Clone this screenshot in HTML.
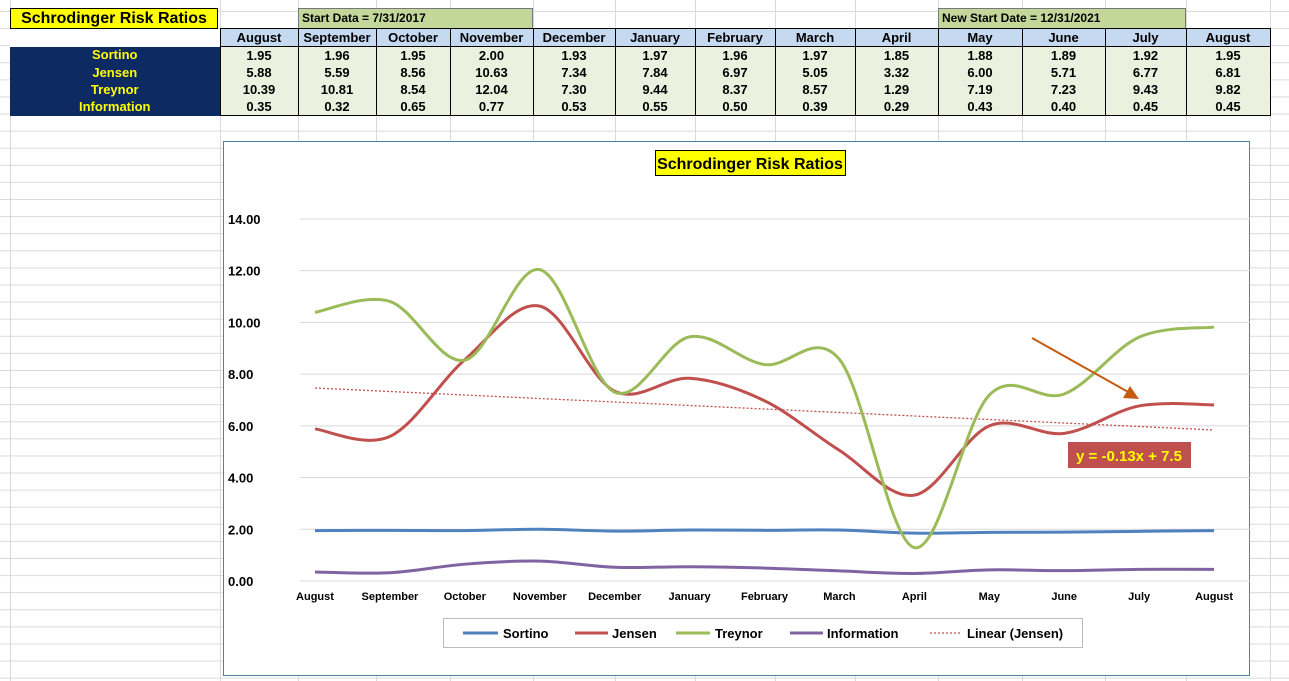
<!DOCTYPE html>
<html><head><meta charset="utf-8"><style>
body{margin:0;width:1289px;height:681px;overflow:hidden;background:#fff;font-family:"Liberation Sans",Arial,sans-serif;position:relative}
.grid{position:absolute;left:0;top:0;width:1289px;height:681px;
background-image:linear-gradient(#dadada 1px,transparent 1px);background-size:100% 17.1px;background-position:0 11px}
.v{position:absolute;top:0;height:681px;width:1px;background:#dadada}
.b{position:absolute;font-weight:bold;box-sizing:border-box}
table{position:absolute;left:10px;top:28px;border-collapse:collapse;font-weight:bold;font-size:13px}
td{height:17px;padding:0;text-align:center;border-left:1px solid #000;border-right:1px solid #000;line-height:16px}
tr.h td{background:#c5d9f1;border:1px solid #000;font-size:13px}
tr.h td:first-child{background:#fff;border:none}
tr.d td{background:#ebf1de}
tr.d td.l{background:#0d2a63;color:#ffff00;border:none}
tr.last td{border-bottom:1px solid #000}
</style></head><body>
<div class="grid"></div>
<div class="v" style="left:10px"></div><div class="v" style="left:220px"></div><div class="v" style="left:298px"></div><div class="v" style="left:376px"></div><div class="v" style="left:450px"></div><div class="v" style="left:533px"></div><div class="v" style="left:615px"></div><div class="v" style="left:695px"></div><div class="v" style="left:775px"></div><div class="v" style="left:855px"></div><div class="v" style="left:938px"></div><div class="v" style="left:1022px"></div><div class="v" style="left:1105px"></div><div class="v" style="left:1186px"></div><div class="v" style="left:1270px"></div>
<div class="b" style="left:10px;top:8px;width:208px;height:21px;background:#ffff00;border:1px solid #000;font-size:16px;text-align:center;line-height:19px">Schrodinger Risk Ratios</div>
<div class="b" style="left:298px;top:8px;width:235px;height:21px;background:#c4d79b;border:1px solid #777;font-size:12px;padding-left:3px;line-height:19px">Start Data = 7/31/2017</div>
<div class="b" style="left:938px;top:8px;width:248px;height:21px;background:#c4d79b;border:1px solid #777;font-size:12px;padding-left:3px;line-height:19px">New Start Date = 12/31/2021</div>
<table>
<colgroup><col style="width:210px"><col style="width:78px"><col style="width:78px"><col style="width:74px"><col style="width:83px"><col style="width:82px"><col style="width:80px"><col style="width:80px"><col style="width:80px"><col style="width:83px"><col style="width:84px"><col style="width:83px"><col style="width:81px"><col style="width:84px"></colgroup>
<tr class="h"><td></td><td>August</td><td>September</td><td>October</td><td>November</td><td>December</td><td>January</td><td>February</td><td>March</td><td>April</td><td>May</td><td>June</td><td>July</td><td>August</td></tr>
<tr class="d"><td class="l">Sortino</td><td>1.95</td><td>1.96</td><td>1.95</td><td>2.00</td><td>1.93</td><td>1.97</td><td>1.96</td><td>1.97</td><td>1.85</td><td>1.88</td><td>1.89</td><td>1.92</td><td>1.95</td></tr>
<tr class="d"><td class="l">Jensen</td><td>5.88</td><td>5.59</td><td>8.56</td><td>10.63</td><td>7.34</td><td>7.84</td><td>6.97</td><td>5.05</td><td>3.32</td><td>6.00</td><td>5.71</td><td>6.77</td><td>6.81</td></tr>
<tr class="d"><td class="l">Treynor</td><td>10.39</td><td>10.81</td><td>8.54</td><td>12.04</td><td>7.30</td><td>9.44</td><td>8.37</td><td>8.57</td><td>1.29</td><td>7.19</td><td>7.23</td><td>9.43</td><td>9.82</td></tr>
<tr class="d last"><td class="l">Information</td><td>0.35</td><td>0.32</td><td>0.65</td><td>0.77</td><td>0.53</td><td>0.55</td><td>0.50</td><td>0.39</td><td>0.29</td><td>0.43</td><td>0.40</td><td>0.45</td><td>0.45</td></tr>
</table>
<svg id="c" style="position:absolute;left:0;top:0" width="1289" height="681" font-family="Liberation Sans, Arial, sans-serif" font-weight="bold">
<rect x="223.5" y="141.5" width="1026" height="534" fill="#fff" stroke="#4f81a8"/>
<g id="g"></g>
<rect x="655.5" y="150.5" width="190" height="25" fill="#ffff00" stroke="#000"/>
<text x="750" y="169" font-size="16" text-anchor="middle">Schrodinger Risk Ratios</text>
<line x1="1032" y1="338" x2="1130" y2="393" stroke="#c55a11" stroke-width="2"/>
<polygon points="1139,399 1123,398 1130,386" fill="#c55a11"/>
<rect x="1068" y="442" width="123" height="26" fill="#c0504d"/>
<text x="1129" y="461" font-size="15" fill="#ffff00" text-anchor="middle">y = -0.13x + 7.5</text>
<rect x="443.5" y="618.5" width="639" height="29" fill="#fff" stroke="#bbb"/>
<g font-size="13">
<line x1="463" y1="633" x2="498" y2="633" stroke="#4f81bd" stroke-width="3"/><text x="503" y="638">Sortino</text>
<line x1="575" y1="633" x2="608" y2="633" stroke="#c0504d" stroke-width="3"/><text x="612" y="638">Jensen</text>
<line x1="676" y1="633" x2="710" y2="633" stroke="#9bbb59" stroke-width="3"/><text x="715" y="638">Treynor</text>
<line x1="790" y1="633" x2="823" y2="633" stroke="#8064a2" stroke-width="3"/><text x="827" y="638">Information</text>
<line x1="930" y1="633" x2="962" y2="633" stroke="#c0504d" stroke-width="1.3" stroke-dasharray="2,2"/><text x="967" y="638">Linear (Jensen)</text>
</g>
</svg>
<script>
var g=document.getElementById('g'),s='';
function X(i){return 315+74.92*i}function Y(v){return 581-25.86*v}
for(var k=0;k<=7;k++){var y=Y(k*2);s+='<line x1="300" x2="1250" y1="'+y+'" y2="'+y+'" stroke="#d9d9d9"/>';s+='<text x="228" y="'+(y+5)+'" font-size="13">'+(k*2).toFixed(2)+'</text>';}
var m=["August","September","October","November","December","January","February","March","April","May","June","July","August"];
m.forEach(function(t,i){s+='<text x="'+X(i)+'" y="600" font-size="11" text-anchor="middle">'+t+'</text>'});
s+='<line x1="315" y1="388" x2="1214" y2="430" stroke="#c0504d" stroke-width="1.3" stroke-dasharray="2,2"/>';
function p(d,c){var P=d.map(function(v,i){return[X(i),Y(v)]});var o='M'+P[0];for(var i=0;i<P.length-1;i++){var a=P[i-1]||P[i],b=P[i],c2=P[i+1],e=P[i+2]||c2;o+='C'+(b[0]+(c2[0]-a[0])/6)+','+(b[1]+(c2[1]-a[1])/6)+' '+(c2[0]-(e[0]-b[0])/6)+','+(c2[1]-(e[1]-b[1])/6)+' '+c2;}return '<path d="'+o+'" fill="none" stroke="'+c+'" stroke-width="3"/>';}
s+=p([1.95,1.96,1.95,2.00,1.93,1.97,1.96,1.97,1.85,1.88,1.89,1.92,1.95],'#4f81bd');
s+=p([5.88,5.59,8.56,10.63,7.34,7.84,6.97,5.05,3.32,6.00,5.71,6.77,6.81],'#c0504d');
s+=p([10.39,10.81,8.54,12.04,7.30,9.44,8.37,8.57,1.29,7.19,7.23,9.43,9.82],'#9bbb59');
s+=p([0.35,0.32,0.65,0.77,0.53,0.55,0.50,0.39,0.29,0.43,0.40,0.45,0.45],'#8064a2');
g.innerHTML=s;
</script>
</body></html>
